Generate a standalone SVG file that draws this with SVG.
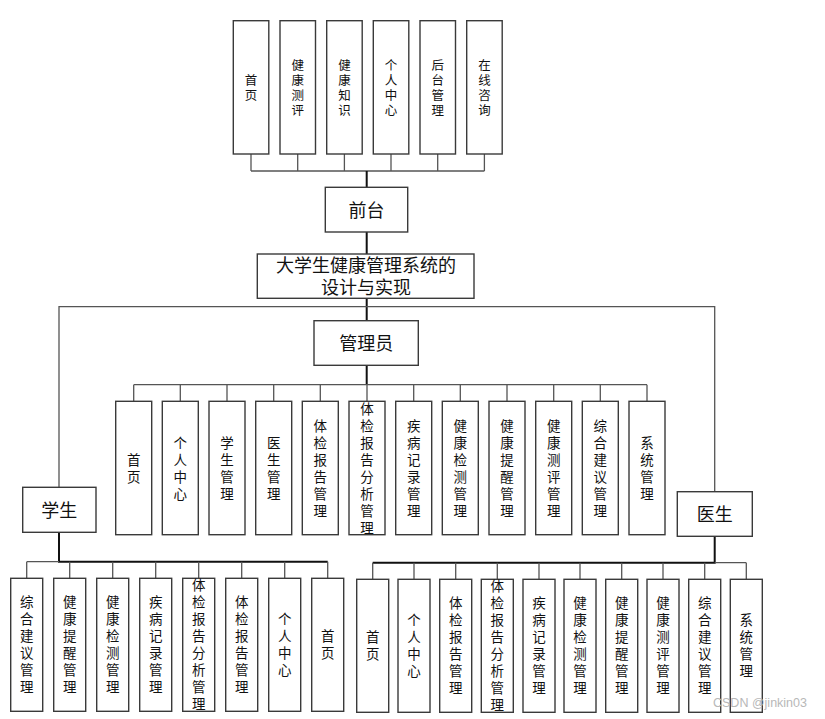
<svg xmlns="http://www.w3.org/2000/svg" width="825" height="719" viewBox="0 0 825 719">
<style>
rect{fill:#fff;stroke:#3a3a3a;stroke-width:1.4}
text{font-family:"Noto Sans CJK SC","Noto Sans",sans-serif;fill:#111;text-anchor:middle}
.v{writing-mode:vertical-rl;glyph-orientation-vertical:0}
.t{font-size:12.5px;letter-spacing:2.5px}
.m{font-size:13.5px;letter-spacing:3.5px}
.b{font-size:18px}
.b2{font-family:"Liberation Sans","Noto Sans CJK SC",sans-serif}
.c path{stroke:#555;stroke-width:1.3;fill:none}
.c .k{stroke:#111;stroke-width:2}
</style>
<rect x="0" y="0" width="825" height="719" style="stroke:none"/>
<g class="c" id="connectors">
<path d="M251 154V171M297.7 154V171M344.4 154V171M391 154V171M437.7 154V171M484.4 154V171M251 171H484.4"/>
<path class="k" d="M366.7 171V187.3M366.7 232V254M366.7 298.3V320.7"/>
<path d="M59 487.3V306.7H714.7V491.7"/>
<path class="k" d="M366.7 365.3V384.7"/>
<path d="M133.7 384.7H647M133.7 384.7V401.3M180.3 384.7V401.3M227 384.7V401.3M273.7 384.7V401.3M320.3 384.7V401.3M367 384.7V401.3M413.7 384.7V401.3M460.3 384.7V401.3M507 384.7V401.3M553.7 384.7V401.3M600.3 384.7V401.3M647 384.7V401.3"/>
<path class="k" d="M59 532.3V561.7H327.7"/>
<path d="M26.7 561.7H59M26.7 561.7V578.3M69.7 561.7V578.3M112.7 561.7V578.3M155.7 561.7V578.3M198.7 561.7V578.3M241.7 561.7V578.3M284.7 561.7V578.3M327.7 561.7V578.3"/>
<path class="k" d="M714.7 536.3V562.7H372.7"/>
<path d="M714.7 562.7H746.3M372.7 562.7V579.3M414 562.7V579.3M455.7 562.7V579.3M497.3 562.7V579.3M539 562.7V579.3M580 562.7V579.3M621.7 562.7V579.3M663 562.7V579.3M704.7 562.7V579.3M746.3 562.7V579.3"/>
</g>
<!-- top row -->
<g id="f-home"><rect x="233.3" y="20.7" width="35.5" height="133.3"/><text class="v t" x="251" y="88.5">首页</text></g>
<g id="f-eval"><rect x="280" y="20.7" width="35.5" height="133.3"/><text class="v t" x="297.7" y="88.5">健康测评</text></g>
<g id="f-know"><rect x="326.7" y="20.7" width="35.5" height="133.3"/><text class="v t" x="344.4" y="88.5">健康知识</text></g>
<g id="f-center"><rect x="373.3" y="20.7" width="35.5" height="133.3"/><text class="v t" x="391" y="88.5">个人中心</text></g>
<g id="f-admin"><rect x="420" y="20.7" width="35.5" height="133.3"/><text class="v t" x="437.7" y="88.5">后台管理</text></g>
<g id="f-consult"><rect x="466.7" y="20.7" width="35.5" height="133.3"/><text class="v t" x="484.4" y="88.5">在线咨询</text></g>
<!-- main nodes -->
<g id="frontend"><rect x="325.3" y="187.3" width="82.4" height="44.7"/><text class="b" x="366.5" y="216.5">前台</text></g>
<g id="system"><rect x="257.3" y="254" width="216.7" height="44.3"/><text class="b b2" x="366" y="272">大学生健康管理系统的</text><text class="b b2" x="366" y="293.5">设计与实现</text></g>
<g id="manager"><rect x="314" y="320.7" width="104.3" height="44.6"/><text class="b" x="366.2" y="349.5">管理员</text></g>
<g id="student"><rect x="22.7" y="487.3" width="73.3" height="45"/><text class="b" x="59.3" y="516.5">学生</text></g>
<g id="doctor"><rect x="677.3" y="491.7" width="75" height="44.6"/><text class="b" x="714.8" y="520.5">医生</text></g>
<!-- admin row -->
<g id="a1"><rect x="115.7" y="401.3" width="36" height="133.4"/><text class="v m" x="133.7" y="469.7">首页</text></g>
<g id="a2"><rect x="162.3" y="401.3" width="36" height="133.4"/><text class="v m" x="180.3" y="469.7">个人中心</text></g>
<g id="a3"><rect x="209" y="401.3" width="36" height="133.4"/><text class="v m" x="227" y="469.7">学生管理</text></g>
<g id="a4"><rect x="255.7" y="401.3" width="36" height="133.4"/><text class="v m" x="273.7" y="469.7">医生管理</text></g>
<g id="a5"><rect x="302.3" y="401.3" width="36" height="133.4"/><text class="v m" x="320.3" y="469.7">体检报告管理</text></g>
<g id="a6"><rect x="349" y="401.3" width="36" height="133.4"/><text class="v m" x="367" y="469.7">体检报告分析管理</text></g>
<g id="a7"><rect x="395.7" y="401.3" width="36" height="133.4"/><text class="v m" x="413.7" y="469.7">疾病记录管理</text></g>
<g id="a8"><rect x="442.3" y="401.3" width="36" height="133.4"/><text class="v m" x="460.3" y="469.7">健康检测管理</text></g>
<g id="a9"><rect x="489" y="401.3" width="36" height="133.4"/><text class="v m" x="507" y="469.7">健康提醒管理</text></g>
<g id="a10"><rect x="535.7" y="401.3" width="36" height="133.4"/><text class="v m" x="553.7" y="469.7">健康测评管理</text></g>
<g id="a11"><rect x="582.3" y="401.3" width="36" height="133.4"/><text class="v m" x="600.3" y="469.7">综合建议管理</text></g>
<g id="a12"><rect x="629" y="401.3" width="36" height="133.4"/><text class="v m" x="647" y="469.7">系统管理</text></g>
<!-- student row -->
<g id="s1"><rect x="10.7" y="578.3" width="32" height="133"/><text class="v m" x="26.7" y="646.5">综合建议管理</text></g>
<g id="s2"><rect x="53.7" y="578.3" width="32" height="133"/><text class="v m" x="69.7" y="646.5">健康提醒管理</text></g>
<g id="s3"><rect x="96.7" y="578.3" width="32" height="133"/><text class="v m" x="112.7" y="646.5">健康检测管理</text></g>
<g id="s4"><rect x="139.7" y="578.3" width="32" height="133"/><text class="v m" x="155.7" y="646.5">疾病记录管理</text></g>
<g id="s5"><rect x="182.7" y="578.3" width="32" height="133"/><text class="v m" x="198.7" y="646.5">体检报告分析管理</text></g>
<g id="s6"><rect x="225.7" y="578.3" width="32" height="133"/><text class="v m" x="241.7" y="646.5">体检报告管理</text></g>
<g id="s7"><rect x="268.7" y="578.3" width="32" height="133"/><text class="v m" x="284.7" y="646.5">个人中心</text></g>
<g id="s8"><rect x="311.7" y="578.3" width="32" height="133"/><text class="v m" x="327.7" y="646.5">首页</text></g>
<!-- doctor row -->
<g id="d1"><rect x="356.7" y="579.3" width="32" height="133"/><text class="v m" x="372.7" y="647.5">首页</text></g>
<g id="d2"><rect x="398" y="579.3" width="32" height="133"/><text class="v m" x="414" y="647.5">个人中心</text></g>
<g id="d3"><rect x="439.7" y="579.3" width="32" height="133"/><text class="v m" x="455.7" y="647.5">体检报告管理</text></g>
<g id="d4"><rect x="481.3" y="579.3" width="32" height="133"/><text class="v m" x="497.3" y="647.5">体检报告分析管理</text></g>
<g id="d5"><rect x="523" y="579.3" width="32" height="133"/><text class="v m" x="539" y="647.5">疾病记录管理</text></g>
<g id="d6"><rect x="564" y="579.3" width="32" height="133"/><text class="v m" x="580" y="647.5">健康检测管理</text></g>
<g id="d7"><rect x="605.7" y="579.3" width="32" height="133"/><text class="v m" x="621.7" y="647.5">健康提醒管理</text></g>
<g id="d8"><rect x="647" y="579.3" width="32" height="133"/><text class="v m" x="663" y="647.5">健康测评管理</text></g>
<g id="d9"><rect x="688.7" y="579.3" width="32" height="133"/><text class="v m" x="704.7" y="647.5">综合建议管理</text></g>
<g id="d10"><rect x="730.3" y="579.3" width="32" height="133"/><text class="v m" x="746.3" y="647.5">系统管理</text></g>
<text x="760" y="707" style="font-family:'Liberation Sans',sans-serif;font-size:12.5px;fill:#b8b8b8">CSDN @jinkin03</text>
</svg>
